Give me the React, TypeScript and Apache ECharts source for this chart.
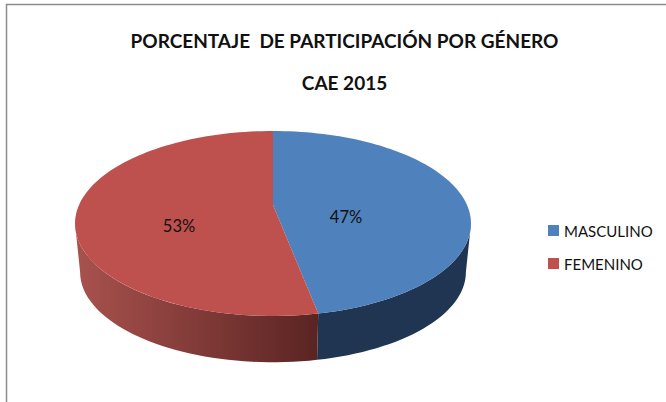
import React, { useEffect, useRef } from "react";
import * as echarts from "echarts";

const categories = ["MASCULINO", "FEMENINO"];
const shares = [47, 53];
const titleLines = ["PORCENTAJE  DE PARTICIPACIÓN POR GÉNERO", "CAE 2015"];
const faceColors = ["#4F81BD", "#BE504D"];

const K = -0.2;
const TOP = { cx: 273, cy: 205, a: 194, b: 88.8 };
const BASE = { cx: 273, cy: 254, a: 189, b: 86.6 };
const TOTAL = shares.reduce((s, v) => s + v, 0);
const HORIZON = Math.asin(0.2) * (180 / Math.PI);
const WALL_FROM = 90 + HORIZON;
const WALL_TO = 270 - HORIZON;
const labelSpots = [
  [346, 217],
  [179, 226],
];

function pt(e: typeof TOP, deg: number): [number, number] {
  const r = (deg * Math.PI) / 180;
  const u = Math.sin(r);
  const v = -Math.cos(r);
  const d = 1 + K * v;
  return [e.cx + (e.a * u) / d, e.cy + (e.b * v) / d];
}

function arc(e: typeof TOP, from: number, to: number): number[][] {
  const n = Math.max(2, Math.ceil(Math.abs(to - from) / 2));
  const out: number[][] = [];
  for (let i = 0; i <= n; i++) out.push(pt(e, from + ((to - from) * i) / n));
  return out;
}

const wallColors: (string | object)[] = [
  "#1F3552",
  {
    type: "linear",
    global: true,
    x: pt(TOP, WALL_TO)[0],
    y: 0,
    x2: pt(TOP, (shares[0] / TOTAL) * 360)[0],
    y2: 0,
    colorStops: [
      { offset: 0, color: "#A9524E" },
      { offset: 1, color: "#5A2422" },
    ],
  },
];

function makeRender(index: number) {
  return (_params: any, api: any) => {
    const before = shares.slice(0, index).reduce((s, v) => s + v, 0);
    const start = (before / TOTAL) * 360;
    const end = start + (api.value(0) / TOTAL) * 360;
    const children: any[] = [];
    const wFrom = Math.max(start, WALL_FROM);
    const wTo = Math.min(end, WALL_TO);
    if (wTo > wFrom) {
      children.push({
        type: "polygon",
        shape: { points: [...arc(TOP, wFrom, wTo), ...arc(BASE, wTo, wFrom)] },
        style: { fill: wallColors[index] },
      });
    }
    children.push({
      type: "polygon",
      shape: { points: [[TOP.cx, TOP.cy], ...arc(TOP, start, end)] },
      style: { fill: faceColors[index] },
    });
    children.push({
      type: "text",
      style: {
        text: `${api.value(0)}%`,
        x: labelSpots[index][0],
        y: labelSpots[index][1],
        align: "center",
        verticalAlign: "middle",
        fill: "#111",
        font: "16.5px Lato",
      },
    });
    return { type: "group", children };
  };
}

export default function App() {
  const ref = useRef<HTMLDivElement>(null);
  useEffect(() => {
    const chart = echarts.init(ref.current!, null, { renderer: "svg" });
    chart.setOption({
      animation: false,
      backgroundColor: "#fff",
      title: {
        text: titleLines.join("\n"),
        left: 339.5,
        top: 14,
        textAlign: "center",
        textStyle: {
          fontFamily: "Lato",
          fontWeight: "bold",
          fontSize: 19,
          lineHeight: 42,
          color: "#111",
        },
      },
      legend: {
        orient: "vertical",
        left: 543,
        top: 218,
        itemWidth: 11,
        itemHeight: 11,
        itemGap: 18,
        icon: "rect",
        data: categories,
        textStyle: { fontFamily: "Lato", fontSize: 15, color: "#111" },
      },
      graphic: [
        {
          type: "polyline",
          shape: { points: [[6.5, 402], [6.5, 4.5], [666, 4.5]] },
          style: { fill: "none", stroke: "#8C8C8C", lineWidth: 1.5 },
          silent: true,
        },
      ],
      series: categories.map((name, i) => ({
        type: "custom",
        name,
        coordinateSystem: "none",
        data: [[shares[i]]],
        itemStyle: { color: faceColors[i] },
        renderItem: makeRender(i),
      })),
    });
    return () => chart.dispose();
  }, []);
  return <div ref={ref} style={{ position: "absolute", left: 0, top: 0, width: 666, height: 402 }} />;
}
